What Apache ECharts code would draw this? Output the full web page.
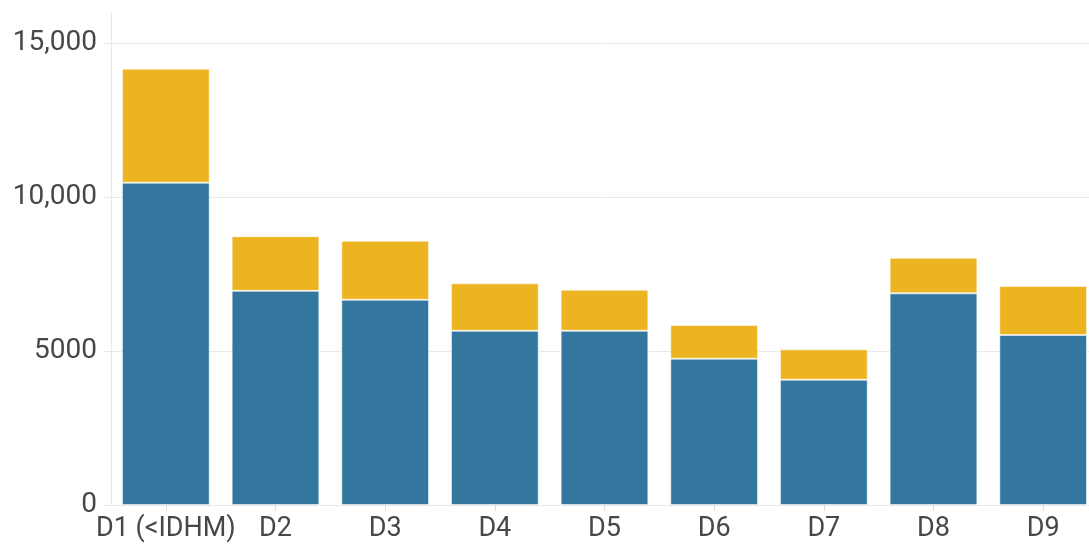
<!DOCTYPE html>
<html>
<head>
<meta charset="utf-8">
<script src="https://cdn.jsdelivr.net/npm/echarts@6/dist/echarts.min.js"></script>
<style>
  html, body { margin: 0; padding: 0; background: #fff; }
  #chart { width: 1089px; height: 544px; }
</style>
</head>
<body>
<div id="chart"></div>
<script>
const categories = ['D1 (<IDHM)', 'D2', 'D3', 'D4', 'D5', 'D6', 'D7', 'D8', 'D9'];
const baseValues = [10460, 6950, 6660, 5655, 5655, 4747, 4066, 6869, 5516];
const topValues = [3700, 1775, 1915, 1540, 1330, 1093, 986, 1155, 1590];

const yMax = 16000;      // top of the plot (axis line runs up to here)
const tickMax = 15000;   // last labelled tick
const tickStep = 5000;

const gridColor = '#e9e9e9';
const labelColor = '#474747';
const fontFamily = 'Roboto, "Noto Sans", sans-serif';

const plotTop = 12;
const plotBottom = 39;
const plotHeight = 544 - plotTop - plotBottom;
// second grid only carries the labelled ticks / gridlines (0..15000)
const tickTop = plotTop + plotHeight * (yMax - tickMax) / yMax;

const chart = echarts.init(document.getElementById('chart'));

// 5000 has no thousands separator, 10,000 and up do
const fmtY = v => (v >= 10000 ? v.toLocaleString('en-US') : String(v));

chart.setOption({
  animation: false,
  grid: [
    { left: 111, top: plotTop, bottom: plotBottom, width: 987, containLabel: false, outerBoundsMode: 'none' },
    { left: 111, top: tickTop, bottom: plotBottom, width: 987, containLabel: false, outerBoundsMode: 'none' }
  ],
  xAxis: [
    {
      type: 'category',
      gridIndex: 0,
      data: categories,
      axisLine: { show: true, lineStyle: { color: gridColor, width: 1 } },
      axisTick: { show: true, alignWithLabel: true, length: 6, lineStyle: { color: '#dcdcdc' } },
      axisLabel: {
        color: labelColor,
        fontFamily: fontFamily,
        fontSize: 27,
        margin: 11,
        interval: 0
      }
    },
    {
      type: 'category',
      gridIndex: 1,
      data: categories,
      show: false
    }
  ],
  yAxis: [
    {
      type: 'value',
      gridIndex: 0,
      min: 0,
      max: yMax,
      axisLine: { show: true, lineStyle: { color: gridColor, width: 1 } },
      axisTick: { show: false },
      axisLabel: { show: false },
      splitLine: { show: false }
    },
    {
      type: 'value',
      gridIndex: 1,
      min: 0,
      max: tickMax,
      interval: tickStep,
      axisLine: { show: false },
      axisTick: { show: true, length: 8, lineStyle: { color: gridColor } },
      splitLine: { show: true, lineStyle: { color: gridColor, width: 1 } },
      axisLabel: {
        color: labelColor,
        fontFamily: fontFamily,
        fontSize: 28,
        margin: 14,
        formatter: fmtY
      }
    }
  ],
  series: [
    {
      name: 'base',
      type: 'bar',
      stack: 'total',
      xAxisIndex: 0,
      yAxisIndex: 0,
      data: baseValues,
      barCategoryGap: '20%',
      itemStyle: { color: '#33779f', borderColor: 'rgba(255,255,255,0.55)', borderWidth: 1 }
    },
    {
      name: 'top',
      type: 'bar',
      stack: 'total',
      xAxisIndex: 0,
      yAxisIndex: 0,
      data: topValues,
      barCategoryGap: '20%',
      itemStyle: { color: '#edb421', borderColor: 'rgba(255,255,255,0.55)', borderWidth: 1 }
    }
  ]
});
</script>
</body>
</html>
